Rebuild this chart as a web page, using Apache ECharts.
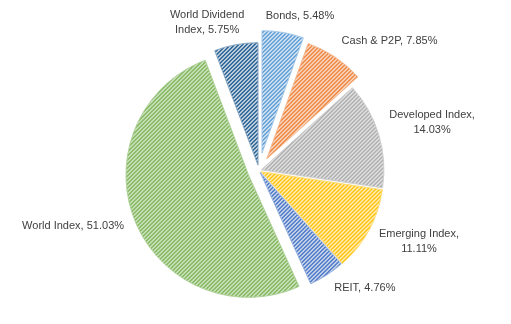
<!DOCTYPE html>
<html>
<head>
<meta charset="utf-8">
<script src="https://cdn.jsdelivr.net/npm/echarts@6/dist/echarts.min.js"></script>
<style>
html,body{margin:0;padding:0;background:#fff;}
#chart{width:511px;height:324px;}
</style>
</head>
<body>
<div id="chart"></div>
<script>
// ---- data ----
const categories = ['Bonds', 'Cash & P2P', 'Developed Index', 'Emerging Index', 'REIT', 'World Index', 'World Dividend Index'];
const values = [5.48, 7.85, 14.03, 11.11, 4.76, 51.03, 5.75];
const labelTexts = ['Bonds, 5.48%', 'Cash & P2P, 7.85%', 'Developed Index,\n14.03%', 'Emerging Index,\n11.11%', 'REIT, 4.76%', 'World Index, 51.03%', 'World Dividend\nIndex, 5.75%'];

// ---- styles ----
const colors = ['#5B9BD5', '#ED7D31', '#A5A5A5', '#FFC000', '#4472C4', '#70AD47', '#255E91'];
const explode = [17.6, 14, 2.5, 2.5, 2, 11.4, 5.4];
const labelLen = [16.8, 19.5, 42.9, 22.9, 15.5, 11, 22.5];
const labelLen2 = [9.1, 38.6, 7.3, 25, 24.7, 47.1, 19.9];

function mix(hex, t) {
  const r = parseInt(hex.slice(1, 3), 16), g = parseInt(hex.slice(3, 5), 16), b = parseInt(hex.slice(5, 7), 16);
  const f = v => Math.round(v + (255 - v) * t);
  return 'rgb(' + f(r) + ',' + f(g) + ',' + f(b) + ')';
}
function pattern(color) {
  const c = document.createElement('canvas');
  c.width = 4; c.height = 4;
  const g = c.getContext('2d');
  g.fillStyle = mix(color, 0.78);
  g.fillRect(0, 0, 4, 4);
  g.fillStyle = color;
  for (let y = 0; y < 4; y++) for (let x = 0; x < 4; x++) if ((x + y) % 4 < 2) g.fillRect(x, y, 1, 1);
  return c;
}

const series = categories.map((cat, i) => ({
  type: 'pie',
  center: [259, 170.5],
  radius: 122.5,
  startAngle: 90,
  clockwise: true,
  selectedMode: 'multiple',
  selectedOffset: explode[i],
  silent: true,
  animation: false,
  avoidLabelOverlap: false,
  emphasis: { disabled: true },
  label: {
    position: 'outside',
    formatter: () => labelTexts[i],
    color: '#404040',
    fontFamily: 'Liberation Sans',
    fontSize: 11,
    lineHeight: 15
  },
  labelLine: { show: false, length: labelLen[i], length2: labelLen2[i] },
  labelLayout: { align: 'center' },
  data: categories.map((name, j) => ({
    name: name,
    value: values[j],
    selected: j === i,
    itemStyle: j === i
      ? { color: { image: pattern(colors[j]), repeat: 'repeat' }, borderColor: mix(colors[j], 0.45), borderWidth: 1 }
      : { color: 'rgba(0,0,0,0)', borderWidth: 0 },
    label: { show: j === i }
  }))
}));

const chart = echarts.init(document.getElementById('chart'), null, { renderer: 'canvas' });
chart.setOption({ backgroundColor: '#fff', animation: false, series: series });
</script>
</body>
</html>
